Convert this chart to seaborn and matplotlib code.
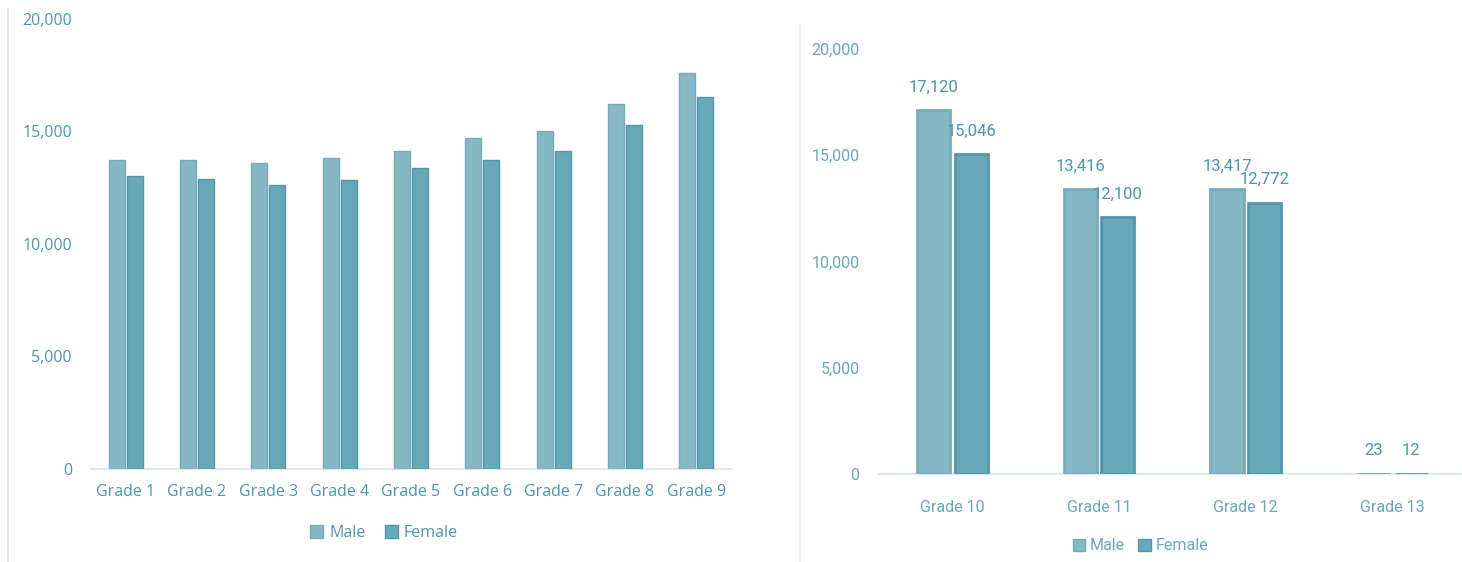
import matplotlib.pyplot as plt
import seaborn as sns
import pandas as pd
from matplotlib.lines import Line2D
from matplotlib.patches import Patch
from matplotlib.ticker import FuncFormatter

plt.switch_backend('Agg')

# primary grades (left panel)
primary_grades = ['Grade 1', 'Grade 2', 'Grade 3', 'Grade 4', 'Grade 5',
                  'Grade 6', 'Grade 7', 'Grade 8', 'Grade 9']
primary_male = [13750, 13730, 13620, 13820, 14150, 14700, 15000, 16200, 17590]
primary_female = [13040, 12900, 12640, 12840, 13360, 13750, 14150, 15270, 16520]

# secondary grades (right panel)
secondary_grades = ['Grade 10', 'Grade 11', 'Grade 12', 'Grade 13']
secondary_male = [17120, 13416, 13417, 23]
secondary_female = [15046, 12100, 12772, 12]

genders = ['Male', 'Female']
palette = {'Male': '#86B7C5', 'Female': '#66A7B8'}
edges = {'Male': '#74ACBC', 'Female': '#5298AB'}
text_color = '#4A97AB'
light_text = '#68A8B9'


def to_long(grades, male, female):
    return pd.DataFrame({
        'grade': grades * 2,
        'gender': ['Male'] * len(grades) + ['Female'] * len(grades),
        'count': male + female,
    })


def style_axis(ax, font, size, color, xpad, ypad):
    sns.despine(ax=ax, left=True)
    ax.spines['bottom'].set_color('#D6E5EA')
    ax.spines['bottom'].set_linewidth(1.2)
    ax.spines['bottom'].set_zorder(0)
    ax.set_ylim(0, 20000)
    ax.set_yticks([0, 5000, 10000, 15000, 20000])
    ax.yaxis.set_major_formatter(FuncFormatter(lambda v, p: f'{v:,.0f}'))
    ax.tick_params(axis='both', length=0, colors=color)
    ax.tick_params(axis='x', pad=xpad)
    ax.tick_params(axis='y', pad=ypad)
    for lbl in ax.get_xticklabels() + ax.get_yticklabels():
        lbl.set_fontfamily(font)
        lbl.set_fontsize(size)
    ax.set_xlabel('')
    ax.set_ylabel('')
    ax.grid(False)


def color_edges(ax, n, lw):
    for i, bar in enumerate(ax.patches[:2 * n]):
        g = genders[i // n]
        bar.set_edgecolor(edges[g])
        bar.set_linewidth(lw)


sns.set_theme(style='white')
fig = plt.figure(figsize=(14.62, 5.62), dpi=100)

left_font = ['Open Sans', 'DejaVu Sans']
right_font = ['Roboto', 'DejaVu Sans']

# left panel
ax1 = fig.add_axes([0.0616, 0.1655, 0.4391, 0.8007])
df1 = to_long(primary_grades, primary_male, primary_female)
sns.barplot(data=df1, x='grade', y='count', hue='gender', hue_order=genders,
            palette=palette, saturation=1, width=0.505, gap=0.11, ax=ax1,
            legend=False, errorbar=None)
color_edges(ax1, len(primary_grades), 1.0)
ax1.set_xlim(-0.5, len(primary_grades) - 0.5)
style_axis(ax1, left_font, 11.5, text_color, 11, 13)

handles = [Patch(facecolor=palette[g], edgecolor=edges[g], label=g) for g in genders]
fig.legend(handles=handles, loc='center', bbox_to_anchor=(0.2627, 0.0516),
           ncol=2, frameon=False, handlelength=0.8, handleheight=0.8,
           handletextpad=0.4, columnspacing=1.2,
           prop={'family': left_font, 'size': 11.5}, labelcolor=text_color)

# right panel
ax2 = fig.add_axes([0.6012, 0.1566, 0.4015, 0.7562])
df2 = to_long(secondary_grades, secondary_male, secondary_female)
sns.barplot(data=df2, x='grade', y='count', hue='gender', hue_order=genders,
            palette=palette, saturation=1, width=0.513, gap=0.12, ax=ax2,
            legend=False, errorbar=None)
color_edges(ax2, len(secondary_grades), 2.0)
ax2.set_xlim(-0.5, len(secondary_grades) - 0.5)
style_axis(ax2, right_font, 11.5, light_text, 19, 14)
for cont in ax2.containers:
    ax2.bar_label(cont, fmt='{:,.0f}', padding=11, color=text_color,
                  fontsize=12, family=right_font)

fig.legend(handles=handles, loc='center', bbox_to_anchor=(0.78, 0.0285),
           ncol=2, frameon=False, handlelength=0.8, handleheight=0.8,
           handletextpad=0.3, columnspacing=0.8,
           prop={'family': right_font, 'size': 11.5}, labelcolor=light_text)

# thin panel borders from the source images
fig.add_artist(Line2D([8 / 1462, 8 / 1462], [0.0, 0.985], color='#DCE9EE', lw=1.2))
fig.add_artist(Line2D([800 / 1462, 800 / 1462], [0.0, 0.955], color='#E6EFF2', lw=1.2))

fig.savefig('out.png', dpi=100)
plt.close(fig)
